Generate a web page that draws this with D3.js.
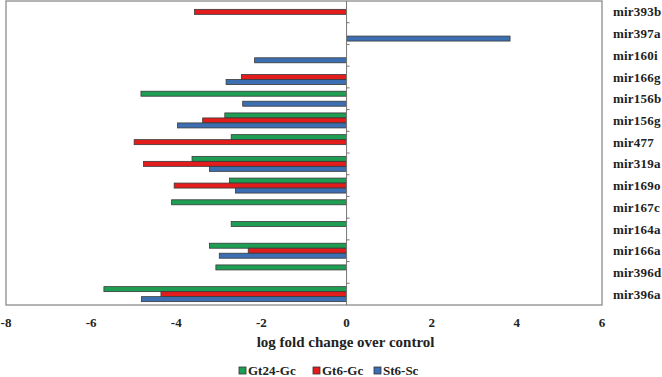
<!DOCTYPE html>
<html>
<head>
<meta charset="utf-8">
<script src="https://cdn.jsdelivr.net/npm/d3@7"></script>
<style>
  body { margin: 0; background: #fff; }
  text { font-family: "Liberation Serif", "Times New Roman", serif; font-weight: bold; fill: #222; }
</style>
</head>
<body>
<div id="general"></div>
<script>
const w = 662, h = 377;
const m = {l: 6, r: 602, t: 1, b: 305};

const categories = ["mir393b", "mir397a", "mir160i", "mir166g", "mir156b", "mir156g", "mir477",
  "mir319a", "mir169o", "mir167c", "mir164a", "mir166a", "mir396d", "mir396a"];
const series = ["Gt24-Gc", "Gt6-Gc", "St6-Sc"];
const colors = ["#1e9e52", "#e31c1c", "#3b6fb2"];
// null = no bar
const gt24 = [null, null, null, null, -4.83, -2.86, -2.71, -3.63, -2.75, -4.11, -2.71, -3.22, -3.07, -5.70];
const gt6  = [-3.57, null, null, -2.47, null, -3.38, -4.99, -4.77, -4.05, null, null, -2.31, null, -4.36];
const st6  = [null, 3.84, -2.16, -2.83, -2.44, -3.97, null, -3.22, -2.61, null, null, -2.99, null, -4.82];
const xTicks = [-8, -6, -4, -2, 0, 2, 4, 6];

const rows = [];
[gt24, gt6, st6].forEach((vals, si) => {
  vals.forEach((v, ci) => { if (v !== null) rows.push({cat: categories[ci], s: si, v}); });
});

const svg = d3.select("#general").append("svg").attr("width", w).attr("height", h);

const x = d3.scaleLinear().domain([-8, 6]).range([m.l, m.r]);
const y = d3.scaleBand().domain(categories).range([m.t, m.b]);
const barH = 5;

svg.append("rect")
  .attr("x", m.l).attr("y", m.t)
  .attr("width", m.r - m.l).attr("height", m.b - m.t)
  .attr("fill", "none").attr("stroke", "#9a9a9a").attr("stroke-width", 1.5);

svg.append("g").selectAll("rect")
  .data(rows)
  .join("rect")
    .attr("x", d => x(Math.min(0, d.v)))
    .attr("width", d => Math.abs(x(d.v) - x(0)))
    .attr("y", d => y(d.cat) + y.bandwidth() / 2 - barH * 1.5 + d.s * barH)
    .attr("height", barH)
    .attr("fill", d => colors[d.s])
    .attr("stroke", "#3a3a3a")
    .attr("stroke-width", 0.8);

// zero axis with small ticks at band edges
const zero = svg.append("g");
zero.append("line")
  .attr("x1", x(0)).attr("x2", x(0)).attr("y1", m.t).attr("y2", m.b)
  .attr("stroke", "#777").attr("stroke-width", 1);
zero.selectAll("line.tk")
  .data(categories.slice(1))
  .join("line")
    .attr("class", "tk")
    .attr("x1", x(0)).attr("x2", x(0) + 3)
    .attr("y1", d => y(d)).attr("y2", d => y(d))
    .attr("stroke", "#777");

svg.append("g").selectAll("text")
  .data(categories)
  .join("text")
    .attr("x", 613)
    .attr("y", d => y(d) + y.bandwidth() / 2 + 4.5)
    .attr("font-size", 13)
    .attr("letter-spacing", 0.2)
    .text(d => d);

svg.append("g").selectAll("text")
  .data(xTicks)
  .join("text")
    .attr("x", d => x(d))
    .attr("y", 327)
    .attr("text-anchor", "middle")
    .attr("font-size", 13)
    .text(d => d);

svg.append("text")
  .attr("x", x(0) - 1).attr("y", 347)
  .attr("text-anchor", "middle")
  .attr("font-size", 15)
  .text("log fold change over control");

const legX = [239, 313, 374];
const leg = svg.append("g").selectAll("g")
  .data(series)
  .join("g")
    .attr("transform", (d, i) => `translate(${legX[i]},368)`);
leg.append("rect")
  .attr("width", 7).attr("height", 7).attr("y", -1)
  .attr("fill", (d, i) => colors[i]).attr("stroke", "#333").attr("stroke-width", 0.8);
leg.append("text")
  .attr("x", 9).attr("y", 7)
  .attr("font-size", 13)
  .text(d => d);
</script>
</body>
</html>
